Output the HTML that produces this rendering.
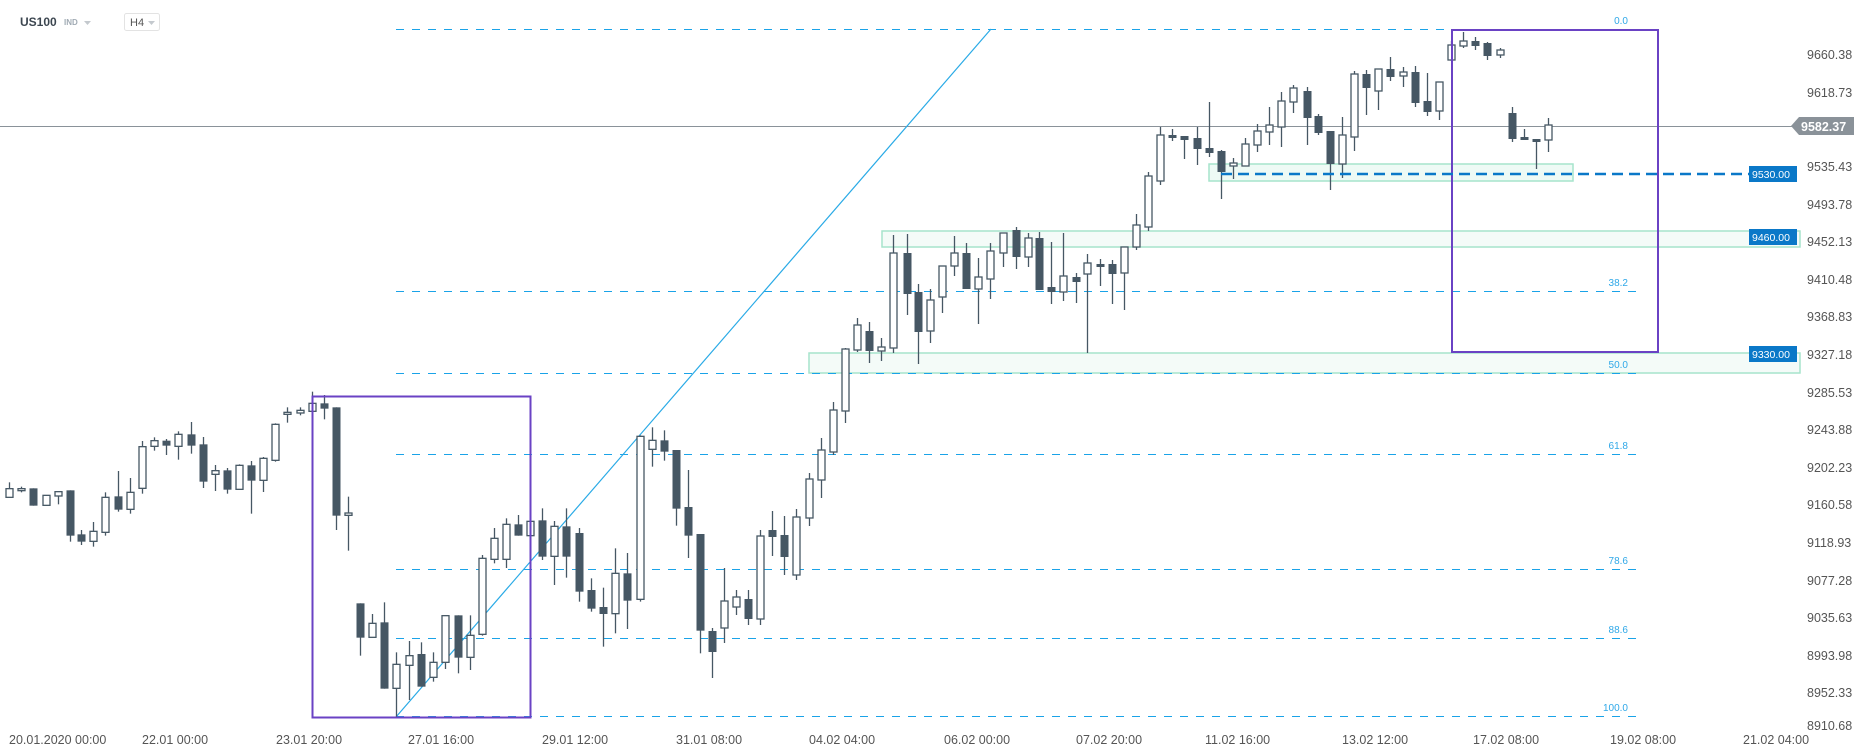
<!DOCTYPE html>
<html><head><meta charset="utf-8"><style>
html,body{margin:0;padding:0;background:#fff;}
svg{display:block;font-family:"Liberation Sans",sans-serif;}
</style></head><body>
<svg id="c" width="1866" height="756" viewBox="0 0 1866 756" xmlns="http://www.w3.org/2000/svg">
<rect width="1866" height="756" fill="#fff"/>
<!-- header -->
<text x="20" y="26" font-size="12" font-weight="bold" fill="#3c4650">US100</text>
<text x="64" y="25" font-size="8" font-weight="bold" fill="#a0aab3">IND</text>
<path d="M84 21 L91 21 L87.5 25 Z" fill="#c4c9ce"/>
<rect x="124.5" y="13.5" width="35" height="17" rx="2" fill="#fff" stroke="#e3e3e3"/>
<text x="130" y="26" font-size="11" fill="#555">H4</text>
<path d="M148 21 L155 21 L151.5 25 Z" fill="#c4c9ce"/>
<!-- green zones -->
<rect x="1209" y="164" width="364" height="17" fill="#eefaf5" stroke="#a6e4cc" stroke-width="1.5"/>
<rect x="882" y="231" width="918" height="16" fill="#f4fbf8" stroke="#a6e4cc" stroke-width="1.5"/>
<rect x="809" y="353" width="991" height="20" fill="#f4fbf8" stroke="#a6e4cc" stroke-width="1.5"/>
<!-- fib lines -->
<g stroke="#1aa3e8" stroke-width="1" stroke-dasharray="8,8">
<line x1="396" y1="29.5" x2="1636" y2="29.5"/>
<line x1="396" y1="291.5" x2="1636" y2="291.5"/>
<line x1="396" y1="373.5" x2="1636" y2="373.5"/>
<line x1="396" y1="454.5" x2="1636" y2="454.5"/>
<line x1="396" y1="569.5" x2="1636" y2="569.5"/>
<line x1="396" y1="638.5" x2="1636" y2="638.5"/>
<line x1="396" y1="716.5" x2="1636" y2="716.5"/>
</g>
<g font-size="10" fill="#2fa8e8" text-anchor="end">
<text x="1628" y="24">0.0</text>
<text x="1628" y="286">38.2</text>
<text x="1628" y="368">50.0</text>
<text x="1628" y="449">61.8</text>
<text x="1628" y="564">78.6</text>
<text x="1628" y="633">88.6</text>
<text x="1628" y="711">100.0</text>
</g>
<!-- current price line -->
<line x1="0" y1="126.5" x2="1795" y2="126.5" stroke="#8a9299" stroke-width="1"/>
<!-- diagonal -->
<line x1="396" y1="717" x2="991" y2="29" stroke="#29aae6" stroke-width="1.2"/>
<g id="candles"></g>
<!-- purple boxes -->
<rect x="312.5" y="396.5" width="218" height="321" fill="none" stroke="#6a42c4" stroke-width="2"/>
<rect x="1452" y="30" width="206" height="322" fill="none" stroke="#6a42c4" stroke-width="2"/>
<!-- 9530 dashed -->
<line x1="1221" y1="174" x2="1750" y2="174" stroke="#0a78c8" stroke-width="2.5" stroke-dasharray="11,6"/>
<!-- level labels -->
<g font-size="10.5" fill="#fff">
<rect x="1749" y="166" width="48" height="16" fill="#0a78c8"/><text x="1752" y="178">9530.00</text>
<rect x="1749" y="229" width="48" height="16" fill="#0a78c8"/><text x="1752" y="241">9460.00</text>
<rect x="1749" y="346" width="48" height="16" fill="#0a78c8"/><text x="1752" y="358">9330.00</text>
</g>
<path d="M1791 126 L1799 117 L1854 117 L1854 135 L1799 135 Z" fill="#8a9299"/>
<text x="1801" y="131" font-size="12.5" font-weight="bold" fill="#fff">9582.37</text>
<!-- price axis -->
<g font-size="12.5" fill="#555" text-anchor="start">
<text x="1807" y="59">9660.38</text>
<text x="1807" y="97">9618.73</text>
<text x="1807" y="171">9535.43</text>
<text x="1807" y="209">9493.78</text>
<text x="1807" y="246">9452.13</text>
<text x="1807" y="284">9410.48</text>
<text x="1807" y="321">9368.83</text>
<text x="1807" y="359">9327.18</text>
<text x="1807" y="397">9285.53</text>
<text x="1807" y="434">9243.88</text>
<text x="1807" y="472">9202.23</text>
<text x="1807" y="509">9160.58</text>
<text x="1807" y="547">9118.93</text>
<text x="1807" y="585">9077.28</text>
<text x="1807" y="622">9035.63</text>
<text x="1807" y="660">8993.98</text>
<text x="1807" y="697">8952.33</text>
<text x="1807" y="730">8910.68</text>
</g>
<g font-size="12.5" fill="#555" xml:space="preserve">
<text x="9" y="744">20.01.2020  00:00</text>
<text x="142" y="744">22.01  00:00</text>
<text x="276" y="744">23.01  20:00</text>
<text x="408" y="744">27.01  16:00</text>
<text x="542" y="744">29.01  12:00</text>
<text x="676" y="744">31.01  08:00</text>
<text x="809" y="744">04.02  04:00</text>
<text x="944" y="744">06.02  00:00</text>
<text x="1076" y="744">07.02  20:00</text>
<text x="1205" y="744">11.02  16:00</text>
<text x="1342" y="744">13.02  12:00</text>
<text x="1473" y="744">17.02  08:00</text>
<text x="1610" y="744">19.02  08:00</text>
<text x="1743" y="744">21.02  04:00</text>
</g>
</svg>
<script>
(function(){
var z3=[[21,476,502,457,502,0],[47,476,481,470,487,0],[75,475,527,475,527,1],[102,496,526,496,526,0],[129,485,498,485,523,0],[156,481,617,481,635,1],[182,613,635,600,645,1],[209,604,634,576,650,0],[236,502,607,487,617,0],[265,499,539,423,545,1],[292,487,538,444,551,0],[318,350,475,333,491,0],[345,332,349,322,362,0],[372,332,347,327,375,1],[399,313,349,304,389,0],[427,313,347,276,371,1],[454,343,455,321,474,1],[482,422,433,405,483,0],[509,421,479,414,491,1],[536,406,478,403,478,0],[563,406,452,393,551,1],[590,385,451,381,486,0],[617,283,391,280,395,0],[644,247,253,232,278,0],[671,241,249,232,256,0],[699,220,244,185,244,0],[726,220,236,195,268,1],[753,232,557,232,600,1],[780,549,556,500,662,0],[807,820,923,820,977,1],[834,880,922,852,922,0],[861,877,1076,817,1076,1],[888,1003,1075,967,1160,0],[916,977,1006,933,1110,0],[943,972,1070,937,1070,1],[970,997,1042,967,1055,0],[997,857,997,857,1017,0],[1025,856,983,856,1030,1],[1052,916,982,856,1020,0],[1079,685,913,675,917,0],[1107,625,688,594,700,0],[1134,583,688,565,714,0],[1161,583,617,555,617,1],[1188,574,617,574,617,0],[1215,571,680,535,690,1],[1242,589,679,573,765,0],[1269,589,680,535,743,1],[1296,609,785,594,815,1],[1323,780,836,745,845,1],[1351,831,852,773,950,1],[1378,730,851,655,910,0],[1405,730,812,669,897,1],[1433,319,808,316,815,0],[1460,331,358,292,410,0],[1487,331,365,301,392,1],[1514,360,536,360,587,1],[1541,531,617,420,684,1],[1568,612,902,612,970,1]];
var C=[];
z3.forEach(function(a){C.push([a[0]*0.4464,330+a[1]/3,330+a[2]/3,330+a[3]/3,330+a[4]/3,a[5]]);});
var rest=[[712,631,652,628,678,1],[724,601,628,568,643,0],[736,597,607,590,615,0],[748,599,619,590,625,1],[760,536,619,530,625,0],[772,530,537,511,556,1],[784,535,557,516,575,1],[796,517,575,509,580,0],[809,479,518,473,526,0],[821,450,480,438,498,0],[833,410,452,402,455,0],[845,349,411,348,423,0],[857,325,350,318,352,0],[869,331,351,322,363,1],[881,347,351,338,361,0],[893,253,348,235,353,0],[907,253,294,234,315,1],[918,292,332,284,364,1],[930,300,331,289,343,0],[942,266,297,266,313,0],[954,253,266,236,276,0],[966,253,289,243,289,1],[978,277,289,258,324,0],[990,251,279,243,299,0],[1003,233,253,233,267,0],[1016,230,257,227,269,1],[1028,238,257,233,267,0],[1039,238,290,232,290,1],[1051,287,292,242,304,1],[1063,276,292,233,301,0],[1076,277,282,273,303,1],[1087,263,274,254,353,0],[1100,264,267,259,286,1],[1112,264,274,260,304,1],[1124,247,273,247,310,0],[1136,225,247,214,250,0],[1148,176,227,172,231,0],[1160,135,181,127,185,0],[1172,135,138,129,141,1],[1184,136,140,136,159,1],[1197,138,149,127,165,1],[1209,148,153,102,157,1],[1221,151,172,150,199,1],[1233,163,166,158,179,0],[1245,144,166,138,166,0],[1257,131,145,124,152,0],[1269,125,132,107,145,0],[1281,101,127,92,147,0],[1293,88,102,85,113,0],[1307,91,118,87,145,1],[1318,116,133,114,135,1],[1330,131,164,131,190,1],[1342,135,164,117,178,0],[1354,74,137,71,151,0],[1366,74,88,70,115,1],[1378,69,91,69,110,0],[1390,69,77,57,81,1],[1403,72,76,67,87,0],[1415,72,103,66,107,1],[1427,101,112,73,116,1],[1439,82,111,82,120,0],[1451,45,60,41,61,0],[1463,41,46,32,48,0],[1475,41,46,37,50,1],[1487,43,56,42,60,1],[1500,50,55,48,58,0],[1512,113,139,107,142,1],[1524,137,140,129,140,1],[1536,139,142,139,169,1],[1548,125,140,118,152,0]];
C=C.concat(rest);
var s='',col='#465764';
C.forEach(function(c){
 var x=Math.round(c[0])+0.5,t=c[1],b=c[2];if(b-t<2)b=t+2;
 s+='<line x1="'+x+'" y1="'+c[3]+'" x2="'+x+'" y2="'+c[4]+'" stroke="'+col+'" stroke-width="1.3"/>';
 if(c[5])s+='<rect x="'+(x-4)+'" y="'+t+'" width="8" height="'+(b-t)+'" fill="'+col+'"/>';
 else s+='<rect x="'+(x-3.5)+'" y="'+t+'" width="7" height="'+(b-t)+'" fill="#fff" stroke="'+col+'" stroke-width="1.3"/>';
});
document.getElementById('candles').innerHTML=s;
})();
</script>
</body></html>
